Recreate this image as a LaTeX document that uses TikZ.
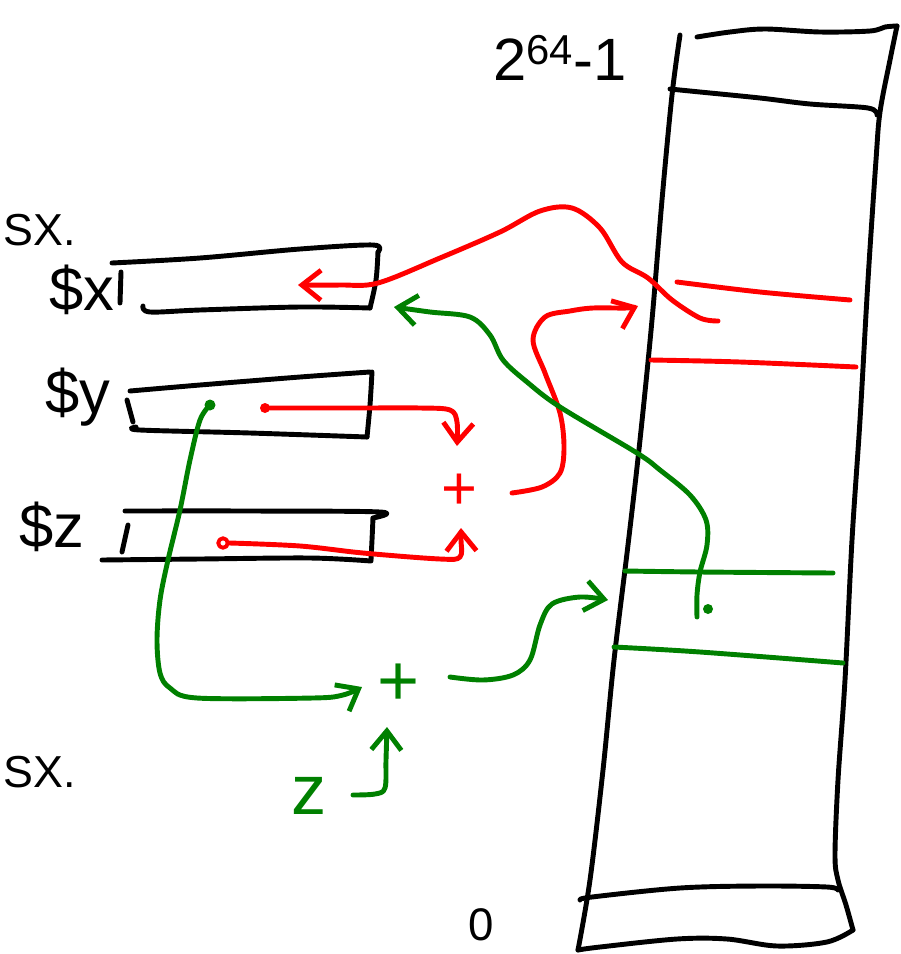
\documentclass[tikz,border=0pt]{standalone}
\usepackage{fontspec}
\setmainfont{Liberation Sans}
\usetikzlibrary{arrows.meta}
\definecolor{penred}{RGB}{255,0,0}
\definecolor{pengreen}{RGB}{0,128,0}

\begin{document}
\begin{tikzpicture}[x=0.02cm, y=-0.02cm, line width=2.8pt, line cap=round, line join=round,
  ink/.style={smooth, tension=0.55},
  barb/.style={-{Straight Barb[length=3.8mm, width=6mm]}},
  dot/.style={circle, fill, inner sep=0pt, minimum size=2mm},
  hand/.style={inner sep=0pt, font=\fontsize{35}{40}\selectfont}]
\useasboundingbox (0,0) rectangle (900,954);
\node[inner sep=0pt, anchor=base west, font=\fontsize{25.5}{30}\selectfont] (v0) at (1,245) {SX.};
\node[inner sep=0pt, anchor=base west, font=\fontsize{25.5}{30}\selectfont] (v1) at (1,787) {SX.};
\node[hand] (v2) at (82,290) {\$x};
\node[hand] (v3) at (78,397) {\$y};
\node[hand] (v4) at (52,527) {\$z};
\node[hand, font=\fontsize{34}{40}\selectfont] (v5) at (560,58) {2\textsuperscript{64}-1};
\node[hand, font=\fontsize{26}{30}\selectfont] (v6) at (481,925) {0};
\node[hand, penred] (v7) at (459,492) {+};
\node[hand, pengreen, font=\fontsize{41}{46}\selectfont] (v8) at (399,685) {+};
\node[hand, pengreen, font=\fontsize{40}{46}\selectfont] (v9) at (309,796) {z};
\node[dot, penred] (v10) at (265,408) {};
\node[dot, pengreen, minimum size=2.2mm] (v11) at (210,405) {};
\node[circle, draw=penred, line width=2.2pt, inner sep=0pt, minimum size=1.9mm] (v12) at (223,543) {};
\node[dot, pengreen] (v13) at (708,609) {};
\coordinate (c0) at (718,321);
\coordinate (c1) at (298,285);
\coordinate (c2) at (697,617);
\coordinate (c3) at (394,307);
\coordinate (c4) at (457,446);
\coordinate (c5) at (461,528);
\coordinate (c6) at (512,493);
\coordinate (c7) at (638,306);
\coordinate (c8) at (362,687);
\coordinate (c9) at (450,677);
\coordinate (c10) at (608,600);
\coordinate (c11) at (353,795);
\coordinate (c12) at (387,727);
% memory
\draw plot[ink] coordinates {(680,35) (672,95) (662,200) (652,320) (640,440) (628,545) (614,660) (603,770) (590,880) (578,950)};
\draw plot[ink] coordinates {(578,950) (600,947) (677,939) (727,939) (777,946) (827,942) (853,930)};
\draw plot[ink] coordinates {(853,930) (846,905) (838,880) (835,855) (838,780) (845,680) (852,540) (860,420) (868,280) (876,160) (880,112) (890,60) (897,26)};
\draw plot[ink] coordinates {(697,37) (730,32) (765,29) (820,32) (870,31) (885,27) (897,26)};
\draw plot[ink] coordinates {(670,89) (700,92) (760,98) (810,104) (868,108) (877,115)};
\draw plot[ink] coordinates {(580,900) (592,897) (680,888) (760,886) (827,887) (838,890)};
\draw[penred] plot[ink] coordinates {(677,282) (760,292) (850,300)};
\draw[penred] plot[ink] coordinates {(651,360) (740,362) (856,367)};
\draw[pengreen] plot[ink] coordinates {(625,571) (700,572) (833,573)};
\draw[pengreen] plot[ink] coordinates {(614,647) (700,652) (843,663)};
% boxes
\draw plot[ink] coordinates {(112,263) (200,258) (300,249) (373,245) (378,252)};
\draw plot[ink] coordinates {(378,252) (376,280) (370,308)};
\draw plot[ink] coordinates {(370,308) (300,307) (200,310) (150,312) (143,306)};
\draw (121,272) -- (120,303);
\draw plot[ink] coordinates {(130,391) (200,385) (300,377) (370,372)};
\draw plot[ink] coordinates {(372,372) (370,405) (367,437)};
\draw plot[ink] coordinates {(367,437) (250,433) (140,430) (136,427)};
\draw (127,400) -- (133,422);
\draw plot[ink] coordinates {(125,511) (250,511) (380,512) (373,518)};
\draw plot[ink] coordinates {(373,518) (372,540) (371,560)};
\draw plot[ink] coordinates {(371,561) (310,558) (200,559) (102,560)};
\draw (128,525) -- (122,552);
% red
\draw[penred, barb] plot[ink] coordinates {(c0) (700,318) (672,300) (648,278) (622,262) (600,228) (572,208) (540,211) (500,232) (440,258) (378,283) (340,285) (c1)};
\draw[penred, barb] plot[ink] coordinates {(v10) (360,408) (420,408) (450,410) (457,422) (c4)};
\draw[penred, barb] plot[ink] coordinates {(v12.east) (300,546) (363,553) (440,559) (460,557) (461,540) (c5)};
\draw[penred, barb] plot[ink] coordinates {(c6) (542,487) (560,473) (564,447) (560,413) (545,373) (533,340) (545,317) (570,311) (593,308) (627,308) (c7)};
% green
\draw[pengreen, barb] plot[ink] coordinates {(c2) (697,595) (700,572) (707,545) (706,520) (690,495) (660,470) (637,453) (560,407) (527,382) (503,360) (490,335) (470,317) (430,312) (c3)};
\draw[pengreen, barb] plot[ink] coordinates {(v11) (200,420) (190,460) (180,510) (168,560) (160,600) (157,640) (160,673) (170,688) (197,698) (313,698) (343,695) (c8)};
\draw[pengreen, barb] plot[ink] coordinates {(c9) (483,680) (513,675) (530,660) (540,625) (552,604) (580,597) (c10)};
\draw[pengreen, barb] plot[ink] coordinates {(c11) (375,794) (385,788) (386,760) (c12)};
\end{tikzpicture}
\end{document}
